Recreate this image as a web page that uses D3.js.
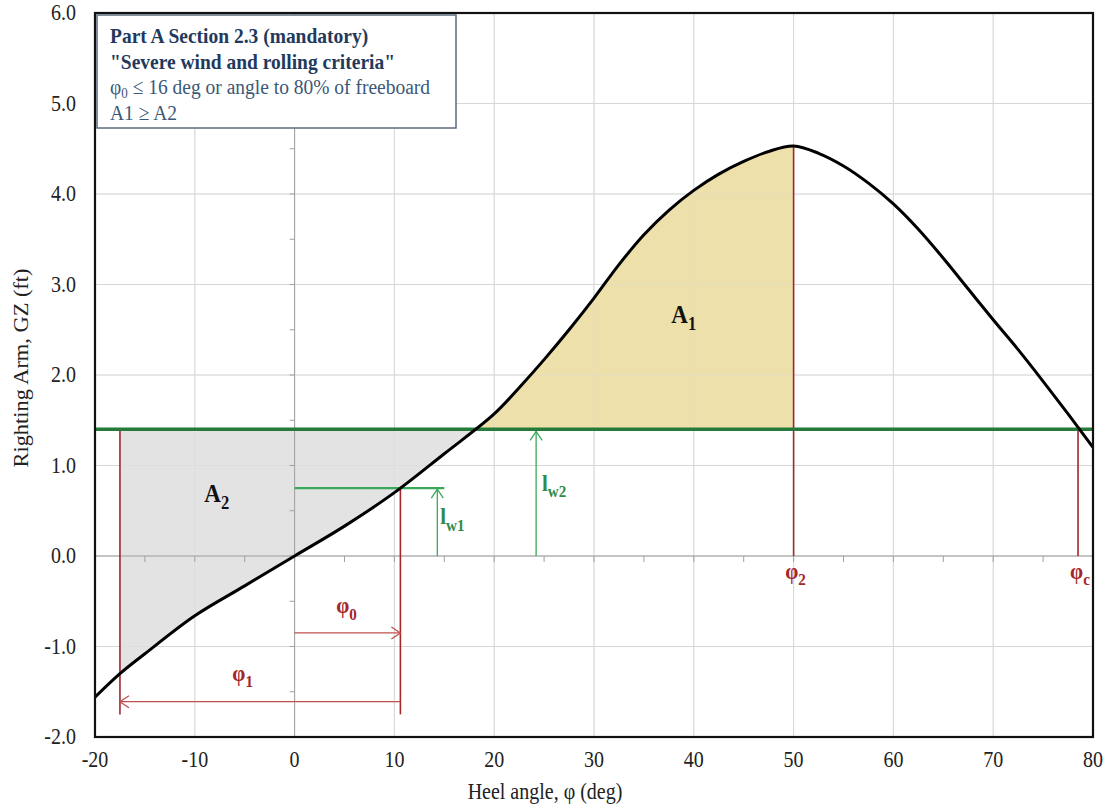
<!DOCTYPE html>
<html>
<head>
<meta charset="utf-8">
<script src="https://cdn.jsdelivr.net/npm/d3@7"></script>
<style>
  body { margin: 0; background: #fff; }
  svg text { font-family: "Liberation Serif", "Times New Roman", serif; }
</style>
</head>
<body>
<svg id="chart" width="1111" height="805"></svg>
<script>
// righting arm curve
var heelAngles = [-20, -17.5, -15, -10, -5, 0, 5, 10, 15, 20, 22.5, 25, 27.5, 30, 32.5, 35, 37.5, 40, 42.5, 45, 47.5, 50, 52.5, 55, 57.5, 60, 62.5, 65, 67.5, 70, 72.5, 75, 77.5, 80];
var gzValues   = [-1.56, -1.30, -1.08, -0.66, -0.33, 0, 0.33, 0.70, 1.13, 1.57, 1.86, 2.17, 2.50, 2.85, 3.22, 3.55, 3.82, 4.04, 4.22, 4.36, 4.47, 4.53, 4.45, 4.31, 4.12, 3.89, 3.61, 3.29, 2.95, 2.61, 2.28, 1.93, 1.57, 1.20];

var xTicks = [-20, -10, 0, 10, 20, 30, 40, 50, 60, 70, 80];
var yTicks = [-2, -1, 0, 1, 2, 3, 4, 5, 6];

// criteria angles and lever arms
var phi0 = 10.6, phi1 = -17.5, phi2 = 50, phiC = 78.5;
var lw1 = 0.75, lw2 = 1.4;
var lw1ArrowX = 14.3, lw1LineEnd = 15, lw2ArrowX = 24.2;
var phi0ArrowY = -0.85, phi1ArrowY = -1.61, phiLinesBottom = -1.75;

var noteLines = [
  {text: "Part A Section 2.3 (mandatory)", bold: true},
  {text: "\"Severe wind and rolling criteria\"", bold: true},
  {text: "φ0 ≤  16 deg or angle to 80% of freeboard", bold: false, sub: true},
  {text: "A1  ≥  A2", bold: false}
];

var svg = d3.select("#chart");
var margin = {left: 95, top: 13, right: 1093, bottom: 737};
var stretch = 1.12; // text in the picture is a bit taller than wide

var x = d3.scaleLinear().domain([-20, 80]).range([margin.left, margin.right]);
var y = d3.scaleLinear().domain([-2, 6]).range([margin.bottom, margin.top]);

var pts = heelAngles.map(function(a, i){ return {a: a, gz: gzValues[i]}; });
var smooth = d3.curveCatmullRom.alpha(0.5);

function txt(g, px, py){
  return g.append("text").attr("transform", "translate(" + px + "," + py + ") scale(1," + stretch + ")");
}

// gridlines
function grid(op){
  svg.append("g").selectAll("line").data(xTicks.slice(1, -1)).enter().append("line")
    .attr("x1", d => x(d)).attr("x2", d => x(d))
    .attr("y1", margin.top).attr("y2", margin.bottom)
    .attr("stroke", "#d8d8d8").attr("stroke-opacity", op);
  svg.append("g").selectAll("line").data(yTicks.slice(1, -1)).enter().append("line")
    .attr("y1", d => y(d)).attr("y2", d => y(d))
    .attr("x1", margin.left).attr("x2", margin.right)
    .attr("stroke", "#d8d8d8").attr("stroke-opacity", op);
}
grid(1);

// fills: area between curve and lw2, clipped
var defs = svg.append("defs");
defs.append("clipPath").attr("id", "clipLow").append("rect")
  .attr("x", x(phi1)).attr("width", x(phi2) - x(phi1))
  .attr("y", y(lw2)).attr("height", y(-2) - y(lw2));
defs.append("clipPath").attr("id", "clipHigh").append("rect")
  .attr("x", x(phi1)).attr("width", x(phi2) - x(phi1))
  .attr("y", y(6)).attr("height", y(lw2) - y(6));

var area = d3.area().curve(smooth)
  .x(d => x(d.a)).y0(d => y(d.gz)).y1(y(lw2));

svg.append("path").datum(pts).attr("d", area)
  .attr("fill", "#e3e3e3").attr("clip-path", "url(#clipLow)");
svg.append("path").datum(pts).attr("d", area)
  .attr("fill", "#eee0ab").attr("clip-path", "url(#clipHigh)");

grid(0.45);

// axes through origin
svg.append("line").attr("x1", x(0)).attr("x2", x(0)).attr("y1", margin.top).attr("y2", margin.bottom)
  .attr("stroke", "#a0a0a0").attr("stroke-width", 1);
svg.append("line").attr("x1", margin.left).attr("x2", margin.right).attr("y1", y(0)).attr("y2", y(0))
  .attr("stroke", "#a0a0a0").attr("stroke-width", 1);
svg.append("g").selectAll("line").data(d3.range(-2, 6.01, 0.5)).enter().append("line")
  .attr("x1", x(0) - 5).attr("x2", x(0))
  .attr("y1", d => y(d)).attr("y2", d => y(d))
  .attr("stroke", "#a0a0a0");
svg.append("g").selectAll("line").data(d3.range(-20, 80.1, 5)).enter().append("line")
  .attr("x1", d => x(d)).attr("x2", d => x(d))
  .attr("y1", y(0)).attr("y2", y(0) + 6)
  .attr("stroke", "#a0a0a0");

function arrowHead(g, tipX, tipY, dir, color){
  // dir: "left","right","up"
  var s = 9, w = 6, p;
  if (dir == "right") p = [[tipX - s, tipY - w], [tipX, tipY], [tipX - s, tipY + w]];
  else if (dir == "left") p = [[tipX + s, tipY - w], [tipX, tipY], [tipX + s, tipY + w]];
  else p = [[tipX - w, tipY + s], [tipX, tipY], [tipX + w, tipY + s]];
  g.append("path").attr("d", d3.line()(p)).attr("fill", "none")
    .attr("stroke", color).attr("stroke-width", 1.3);
}

var redDark = "#a3262b", redLight = "#c0504d", greenDark = "#257a3a", greenLight = "#3aa85a";

// red vertical lines
var vlines = [
  {a: phi1, top: lw2, bottom: phiLinesBottom},
  {a: phi0, top: lw1, bottom: phiLinesBottom},
  {a: phi2, top: 4.52, bottom: 0},
  {a: phiC, top: lw2, bottom: 0}
];
svg.append("g").selectAll("line").data(vlines).enter().append("line")
  .attr("x1", d => x(d.a)).attr("x2", d => x(d.a))
  .attr("y1", d => y(d.top)).attr("y2", d => y(d.bottom))
  .attr("stroke", redDark).attr("stroke-width", 1.6);

// phi arrows
var ann = svg.append("g");
ann.append("line").attr("x1", x(0)).attr("x2", x(phi0)).attr("y1", y(phi0ArrowY)).attr("y2", y(phi0ArrowY))
  .attr("stroke", redLight).attr("stroke-width", 1.3);
arrowHead(ann, x(phi0), y(phi0ArrowY), "right", redLight);
ann.append("line").attr("x1", x(phi1)).attr("x2", x(phi0)).attr("y1", y(phi1ArrowY)).attr("y2", y(phi1ArrowY))
  .attr("stroke", redLight).attr("stroke-width", 1.3);
arrowHead(ann, x(phi1), y(phi1ArrowY), "left", redLight);

// lever arm lines
svg.append("line").attr("x1", x(0)).attr("x2", x(lw1LineEnd)).attr("y1", y(lw1)).attr("y2", y(lw1))
  .attr("stroke", greenLight).attr("stroke-width", 2.2);
ann.append("line").attr("x1", x(lw1ArrowX)).attr("x2", x(lw1ArrowX)).attr("y1", y(0)).attr("y2", y(lw1))
  .attr("stroke", greenLight).attr("stroke-width", 1.3);
arrowHead(ann, x(lw1ArrowX), y(lw1) + 1, "up", greenLight);
ann.append("line").attr("x1", x(lw2ArrowX)).attr("x2", x(lw2ArrowX)).attr("y1", y(0)).attr("y2", y(lw2))
  .attr("stroke", greenLight).attr("stroke-width", 1.3);
arrowHead(ann, x(lw2ArrowX), y(lw2) + 2, "up", greenLight);

svg.append("line").attr("x1", margin.left).attr("x2", margin.right).attr("y1", y(lw2)).attr("y2", y(lw2))
  .attr("stroke", greenDark).attr("stroke-width", 3.5);

// GZ curve
svg.append("path").datum(pts)
  .attr("d", d3.line().curve(smooth).x(d => x(d.a)).y(d => y(d.gz)))
  .attr("fill", "none").attr("stroke", "#000").attr("stroke-width", 3);

// frame
svg.append("rect").attr("x", margin.left).attr("y", margin.top)
  .attr("width", margin.right - margin.left).attr("height", margin.bottom - margin.top)
  .attr("fill", "none").attr("stroke", "#111").attr("stroke-width", 2.2);

// tick labels
var labels = svg.append("g").attr("font-size", 20).attr("fill", "#222");
yTicks.forEach(function(d){
  txt(labels, 76, y(d) + 7).attr("text-anchor", "end").text(d.toFixed(1));
});
xTicks.forEach(function(d){
  txt(labels, x(d), 767).attr("text-anchor", "middle").text(d);
});

txt(labels, 545, 799).attr("text-anchor", "middle").text("Heel angle, φ (deg)");
labels.append("text").attr("transform", "translate(28,368) rotate(-90) scale(" + stretch + ",1)")
  .attr("text-anchor", "middle").text("Righting Arm, GZ (ft)");

// labels with subscripts
function subLabel(px, py, main, sub, color, size){
  var t = txt(svg, px, py).attr("text-anchor", "middle")
    .attr("font-size", size).attr("font-weight", "bold").attr("fill", color);
  t.append("tspan").text(main);
  t.append("tspan").attr("dy", size * 0.28).attr("font-size", size * 0.72).text(sub);
}
subLabel(x(39), y(2.58), "A", "1", "#111", 23);
subLabel(x(-7.8), y(0.6), "A", "2", "#111", 23);
subLabel(x(50.2), y(-0.25), "φ", "2", redDark, 21);
subLabel(x(78.7), y(-0.25), "φ", "c", redDark, 21);
subLabel(x(5.2), y(-0.63), "φ", "0", redDark, 21);
subLabel(x(-5.2), y(-1.38), "φ", "1", redDark, 21);
subLabel(x(15.8), y(0.35), "l", "w1", "#2e8b4a", 21);
subLabel(x(26), y(0.72), "l", "w2", "#2e8b4a", 21);

// note box
var box = svg.append("g");
box.append("rect").attr("x", 97).attr("y", 15).attr("width", 359).attr("height", 113)
  .attr("fill", "#fff").attr("stroke", "#5b6b7c").attr("stroke-width", 1.5);
noteLines.forEach(function(l, i){
  var t = txt(box, 110, 43 + i * 25.5)
    .attr("font-size", 19.5).attr("font-weight", l.bold ? "bold" : "normal")
    .attr("fill", l.bold ? "#1f3a5c" : "#3b5878");
  if (l.sub) {
    t.append("tspan").text("φ");
    t.append("tspan").attr("dy", 4).attr("font-size", 13).text("0");
    t.append("tspan").attr("dy", -4).text(l.text.slice(2));
  } else {
    t.text(l.text);
  }
});
</script>
</body>
</html>
